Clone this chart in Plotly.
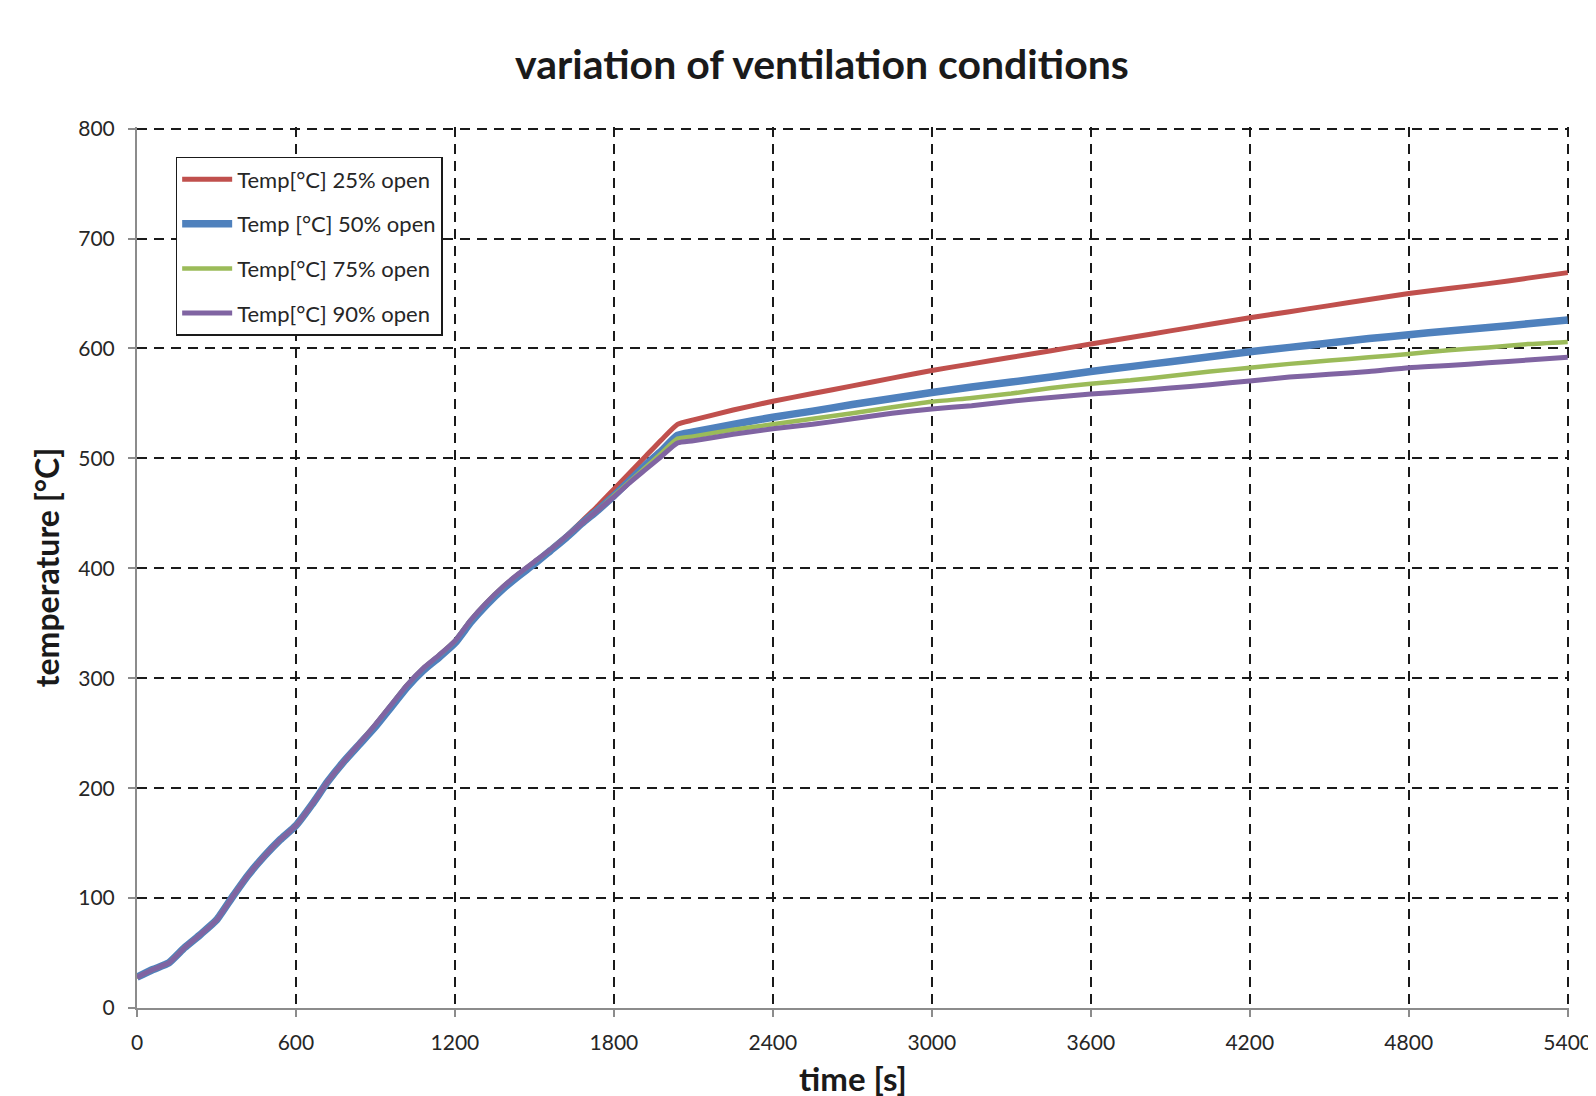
import plotly.graph_objects as go

# time [s]
time_s = [0, 60, 120, 180, 240, 300, 360, 420, 480, 540, 600, 660, 720, 780, 840, 900,
          960, 1020, 1080, 1140, 1200, 1260, 1320, 1380, 1440, 1500, 1560, 1620,
          1680, 1740, 1800, 1860, 1920, 1980, 2040,
          2100, 2250, 2400, 2550, 2700, 2850, 3000, 3150, 3300, 3450, 3600, 3750, 3900,
          4050, 4200, 4350, 4500, 4650, 4800, 4950, 5100, 5250, 5400]

temp_25 = [28, 35, 41, 55, 67, 80, 101, 121, 138, 153, 166, 185, 206, 224, 240, 256,
           274, 292, 307, 319, 332, 351, 367, 381, 393, 404, 416, 429,
           443, 457, 472, 487, 502, 517, 531,
           535, 544, 552, 559, 566, 573, 580, 586, 592, 598, 604, 610, 616,
           622, 628, 633.5, 639, 644.5, 650, 654.5, 659, 664, 669]

temp_50 = [28, 35, 41, 55, 67, 80, 101, 121, 138, 153, 166, 185, 206, 224, 240, 256,
           274, 292, 307, 319, 332, 351, 367, 381, 393, 404, 416, 428,
           441, 453, 466, 480, 494, 507, 521,
           524, 531, 537.5, 543, 549, 554.5, 560, 565, 569.5, 574, 579, 583.5, 588,
           592.5, 597, 601, 605, 609, 612.5, 616, 619, 622.5, 626]

temp_75 = [28, 35, 41, 55, 67, 80, 101, 121, 138, 153, 166, 185, 206, 224, 241, 258,
           276, 294, 309, 321, 334, 353, 369, 383, 395, 406, 417, 429,
           441, 453, 466, 479, 492, 505, 518,
           520, 526, 531, 536, 541, 546.5, 551.5, 555, 559, 564, 568, 571, 575,
           579, 582.5, 586, 589, 592, 595, 598.5, 601, 604, 606]

temp_90 = [28, 35, 41, 55, 67, 80, 101, 121, 138, 153, 166, 185, 206, 224, 241, 258,
           276, 294, 309, 321, 334, 353, 369, 383, 395, 406, 417, 429,
           441, 453, 465, 478, 490, 502, 514,
           516, 522, 527, 531, 536, 541, 545, 548, 552, 555.5, 558.5, 561, 564,
           567, 570.5, 574, 576.5, 579, 582.5, 584.5, 587, 589.5, 592]

series_names = ["Temp[°C] 25% open", "Temp [°C] 50% open", "Temp[°C] 75% open", "Temp[°C] 90% open"]
series_values = [temp_25, temp_50, temp_75, temp_90]
series_colors = ["#C0504D", "#4F81BD", "#9BBB59", "#8064A2"]
series_widths = [5, 7.5, 4.5, 5]

x_ticks = [0, 600, 1200, 1800, 2400, 3000, 3600, 4200, 4800, 5400]
y_ticks = [0, 100, 200, 300, 400, 500, 600, 700, 800]

FONT = "Lato"

fig = go.Figure()
for i, (name, vals, col, w) in enumerate(zip(series_names, series_values, series_colors, series_widths)):
    fig.add_trace(go.Scatter(
        x=time_s, y=vals, mode="lines", name=name,
        line=dict(color=col, width=w, shape="spline", smoothing=0.5),
        legendgroup=f"g{i}",
    ))

axis_common = dict(
    showline=True, linecolor="#8c8c8c", linewidth=2,
    ticks="outside", tickcolor="#8c8c8c", ticklen=7, tickwidth=2,
    showgrid=True, gridcolor="#1a1a1a", gridwidth=2, griddash="10px,7px",
    zeroline=False, ticklabeloverflow="allow",
    tickfont=dict(family=FONT, size=21, color="#262626"),
)

fig.update_layout(
    width=1596, height=1096,
    margin=dict(l=129, r=15, t=119, b=84),
    paper_bgcolor="white", plot_bgcolor="white",
    title=dict(text="<b>variation of ventilation conditions</b>",
               font=dict(family=FONT, size=41, color="#1a1a1a"),
               x=0.51, xanchor="center", y=0.948, yanchor="middle", xref="container", yref="container"),
    xaxis=dict(range=[0, 5405], tickvals=x_ticks, ticklabelstandoff=8,
               title=dict(text="<b>time [s]</b>", font=dict(family=FONT, size=33, color="#1a1a1a"), standoff=15),
               **axis_common),
    yaxis=dict(range=[0, 801.5], tickvals=y_ticks, ticklabelstandoff=9,
               title=dict(text="<b>temperature [°C]</b>", font=dict(family=FONT, size=32, color="#1a1a1a"), standoff=9),
               **axis_common),
    legend=dict(x=0.027, y=0.966, xanchor="left", yanchor="top",
                bgcolor="white", bordercolor="#1a1a1a", borderwidth=1.5,
                font=dict(family=FONT, size=22, color="#262626"),
                tracegroupgap=13, itemwidth=50),
    showlegend=True,
)

fig.write_html("out.html")
